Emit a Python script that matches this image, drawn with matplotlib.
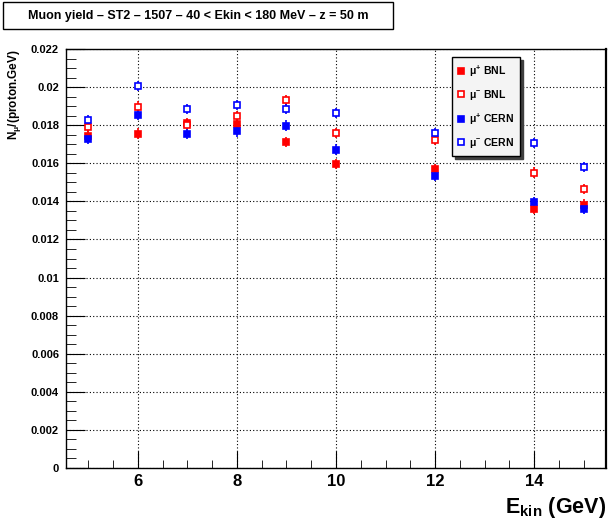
import matplotlib
matplotlib.use("Agg")
import matplotlib.pyplot as plt
from matplotlib.patches import Rectangle
from matplotlib.lines import Line2D
from matplotlib.ticker import MultipleLocator, FuncFormatter

plt.rcParams['font.family'] = ['Liberation Sans', 'DejaVu Sans']
plt.rcParams['font.weight'] = 'bold'
plt.rcParams['mathtext.fontset'] = 'custom'
plt.rcParams['mathtext.rm'] = 'Liberation Sans:bold'
plt.rcParams['mathtext.it'] = 'Liberation Sans:bold'
plt.rcParams['mathtext.bf'] = 'Liberation Sans:bold'

# beam energies (GeV)
ekin = [5, 6, 7, 8, 9, 10, 12, 14, 15]

# muon yields
mup_bnl = [0.01742, 0.01756, 0.01811, 0.01805, 0.01711, 0.01598, 0.01568, 0.01360, 0.01383]
mum_bnl = [0.01793, 0.01898, 0.01803, 0.01846, 0.01933, 0.01758, 0.01721, 0.01551, 0.01465]
mup_cern = [0.01728, 0.01853, 0.01753, 0.01767, 0.01798, 0.01672, 0.01533, 0.01398, 0.01362]
mum_cern = [0.01825, 0.02007, 0.01884, 0.01905, 0.01886, 0.01863, 0.01758, 0.01705, 0.01581]
err = 0.00027

fig = plt.figure(figsize=(6.1, 5.19), dpi=100)
ax = fig.add_axes([66/610, 1-468/519, 540/610, 419/519])

series = [
    (mup_bnl, 'red', True, r'$\mu^{+}$ BNL'),
    (mum_bnl, 'red', False, r'$\mu^{-}$ BNL'),
    (mup_cern, 'blue', True, r'$\mu^{+}$ CERN'),
    (mum_cern, 'blue', False, r'$\mu^{-}$ CERN'),
]
handles = []
for vals, col, filled, lab in series:
    style = dict(marker='s', markersize=4.8,
                 markerfacecolor=col if filled else 'white',
                 markeredgecolor=col, markeredgewidth=1.2)
    ax.errorbar(ekin, vals, yerr=err, linestyle='none', ecolor=col,
                elinewidth=1.2, capsize=0, **style)
    handles.append(Line2D([], [], linestyle='none', label=lab, **style))

ax.set_xlim(4.55, 15.45)
ax.set_ylim(0, 0.022)
ax.xaxis.set_major_locator(MultipleLocator(2))
ax.xaxis.set_minor_locator(MultipleLocator(0.5))
ax.yaxis.set_major_locator(MultipleLocator(0.002))
ax.yaxis.set_minor_locator(MultipleLocator(0.0005))
ax.yaxis.set_major_formatter(FuncFormatter(lambda v, p: f'{v:.3f}'.rstrip('0').rstrip('.') if v else '0'))
ax.tick_params(axis='x', which='major', direction='in', length=12, labelsize=12, pad=4)
ax.tick_params(axis='x', which='minor', direction='in', length=6)
ax.tick_params(axis='y', which='major', direction='in', length=14, labelsize=8, pad=5)
ax.tick_params(axis='y', which='minor', direction='in', length=7)
ax.grid(True, which='major', color='black', linestyle=(0, (1, 2)), linewidth=0.8)
for sp in ax.spines.values():
    sp.set_linewidth(1)
ax.spines['right'].set_linewidth(1.6)

ax.set_xlabel(r'E$_{\rm kin}$ (GeV)', fontsize=15.5, fontweight='bold', loc='right', labelpad=5)
ax.set_ylabel(r'N$_{\mu}$/(proton.GeV)', fontsize=8.5, fontweight='bold', loc='top', labelpad=6)

leg = ax.legend(handles=handles, loc='upper left', bbox_to_anchor=(452/610, 1-57/519),
                bbox_transform=fig.transFigure, fontsize=7.5, frameon=True,
                fancybox=False, handlelength=0.5, handletextpad=0.5,
                labelspacing=0.9, borderpad=0.6, borderaxespad=0,
                shadow={'color': '#404040', 'alpha': 1})
leg.get_frame().set_edgecolor('black')
leg.get_frame().set_facecolor('#f4f4f4')
leg.get_frame().set_linewidth(1)

# title box
fig.patches.append(Rectangle((3/610, 1-29/519), 390/610, 27/519,
                             transform=fig.transFigure, facecolor='white',
                             edgecolor='black', linewidth=1))
fig.text(198/610, 1-15.5/519, 'Muon yield \u2013 ST2 \u2013 1507 \u2013 40 < Ekin < 180 MeV \u2013 z = 50 m',
         ha='center', va='center', fontsize=9, fontweight='bold')

fig.savefig('out.png', dpi=100)
